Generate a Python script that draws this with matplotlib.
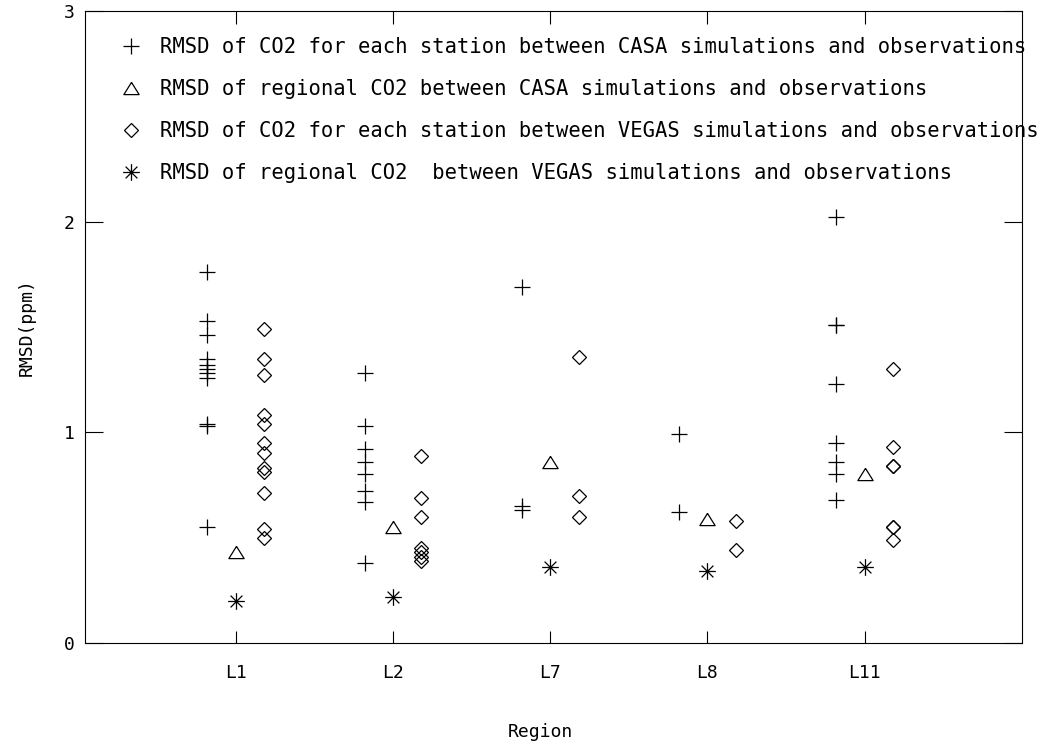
import numpy as np
import matplotlib
matplotlib.use("Agg")
import matplotlib.pyplot as plt
from matplotlib.path import Path

# Data
regions = ["L1", "L2", "L7", "L8", "L11"]

casa_station = [
    [1.76, 1.53, 1.46, 1.35, 1.32, 1.30, 1.28, 1.26, 1.04, 1.03, 0.55],
    [1.28, 1.03, 0.92, 0.86, 0.80, 0.72, 0.67, 0.38],
    [1.69, 0.65, 0.63],
    [0.99, 0.62],
    [2.02, 1.51, 1.51, 1.23, 0.95, 0.86, 0.80, 0.68],
]
vegas_station = [
    [1.49, 1.35, 1.27, 1.08, 1.04, 0.95, 0.90, 0.83, 0.81, 0.71, 0.54, 0.50],
    [0.89, 0.69, 0.60, 0.45, 0.43, 0.41, 0.39],
    [1.36, 0.70, 0.60],
    [0.58, 0.44],
    [1.30, 0.93, 0.84, 0.84, 0.55, 0.55, 0.49],
]
casa_regional = [0.43, 0.55, 0.86, 0.59, 0.80]
vegas_regional = [0.20, 0.22, 0.36, 0.34, 0.36]

labels = [
    "RMSD of CO2 for each station between CASA simulations and observations",
    "RMSD of regional CO2 between CASA simulations and observations",
    "RMSD of CO2 for each station between VEGAS simulations and observations",
    "RMSD of regional CO2  between VEGAS simulations and observations",
]

plt.rcParams['font.family'] = ['DejaVu Sans Mono', 'DejaVu Sans']

# IDL-like markers
tri = [(0, 0.8), (-1, -0.8), (1, -0.8), (0, 0.8)]
d = 0.7071
star = Path([(0, -1), (0, 1), (-1, 0), (1, 0), (-d, -d), (d, d), (-d, d), (d, -d)],
            [Path.MOVETO, Path.LINETO] * 4)

fig = plt.figure(figsize=(10.49, 7.49), dpi=100)
ax = fig.add_axes([0.0807, 0.1415, 0.8936, 0.8438])

xpos = np.arange(1, len(regions) + 1)
off = 0.18

cx = np.concatenate([np.full(len(v), x - off) for x, v in zip(xpos, casa_station)])
cy = np.concatenate(casa_station)
vx = np.concatenate([np.full(len(v), x + off) for x, v in zip(xpos, vegas_station)])
vy = np.concatenate(vegas_station)

ax.plot(cx, cy, ls='none', marker='+', ms=11, mew=0.9, color='black', label=labels[0])
ax.plot(xpos, casa_regional, ls='none', marker=tri, ms=11, mew=0.9, mfc='none',
        mec='black', label=labels[1])
ax.plot(vx, vy, ls='none', marker='D', ms=7, mew=0.9, mfc='none', mec='black',
        label=labels[2])
ax.plot(xpos, vegas_regional, ls='none', marker=star, ms=12, mew=0.9, color='black',
        label=labels[3])

ax.set_xlim(0.04, 6.0)
ax.set_ylim(0, 3)
ax.set_xticks(xpos)
ax.set_xticklabels(regions)
ax.set_yticks([0, 1, 2, 3])
ax.set_yticklabels(["0", "1", "2", "3"])

ax.tick_params(axis='y', direction='in', length=13, width=0.8, right=True,
               labelsize=13, pad=7)
ax.tick_params(axis='x', direction='in', length=9, width=0.8, top=True,
               labelsize=13, pad=15)
for s in ax.spines.values():
    s.set_linewidth(0.8)

ax.set_ylabel("RMSD(ppm)", fontsize=13)
ax.yaxis.set_label_coords(-0.052, 0.5)
ax.set_xlabel("Region", fontsize=13)
ax.xaxis.set_label_coords(0.486, -0.127)

ax.legend(loc='upper left', bbox_to_anchor=(0.0274, 0.959), frameon=False,
          fontsize=14.8, handlelength=2.0, handletextpad=0.41, labelspacing=1.07,
          borderaxespad=0, borderpad=0, numpoints=1)

fig.savefig("out.png", dpi=100)
